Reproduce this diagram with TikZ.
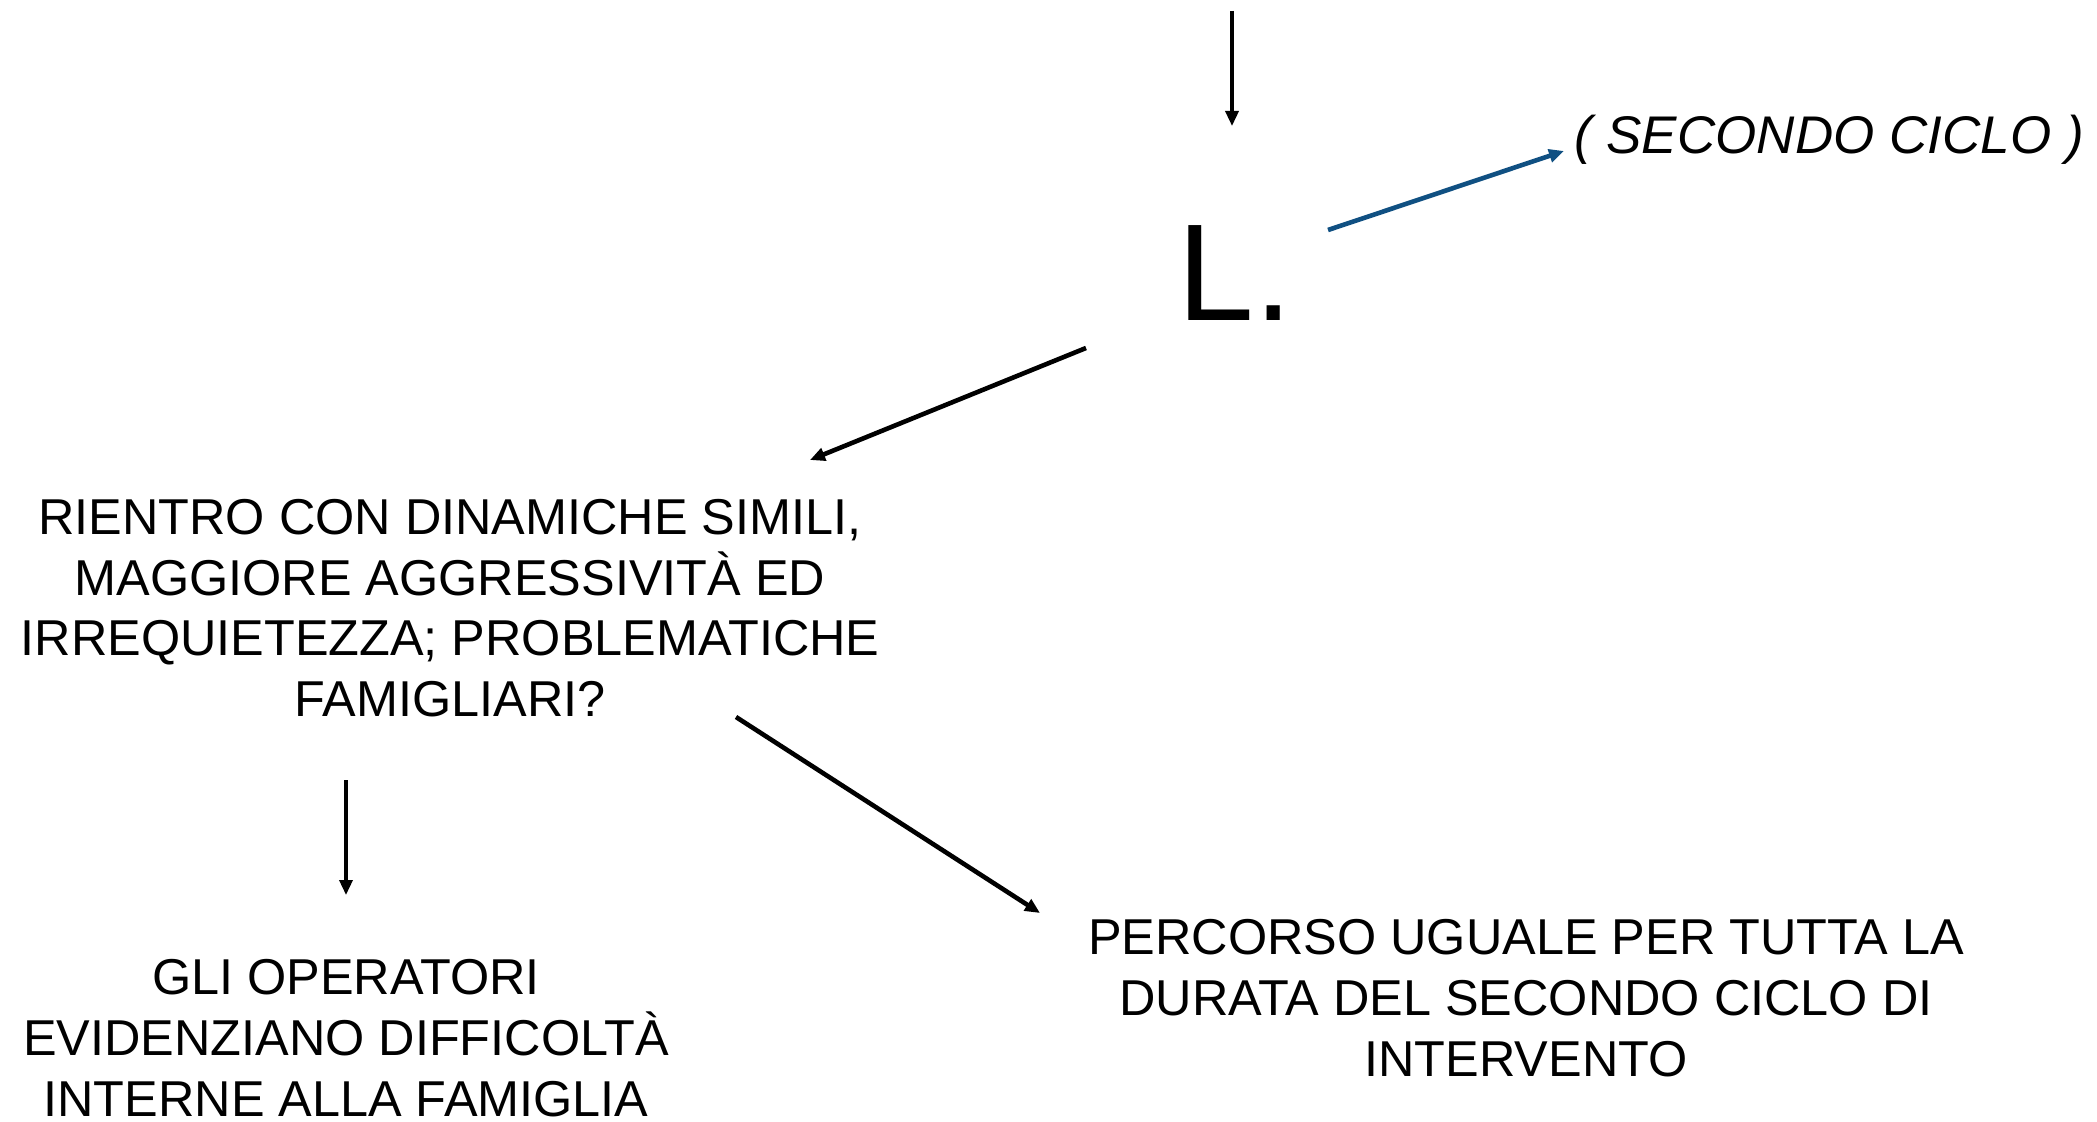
\documentclass[tikz,border=0pt]{standalone}
\usepackage{fontspec}
\setmainfont{Liberation Sans}
\usetikzlibrary{arrows.meta}
\definecolor{arrowblue}{RGB}{16,80,130}
\begin{document}
\begin{tikzpicture}[x=0.5pt,y=-0.5pt,
  txt/.style={font=\fontsize{25.2}{30.35}\selectfont, align=center, inner sep=0pt},
  conn/.style={-{Triangle[length=7.5pt,width=6.5pt]}, line width=2.3pt, black},
  thinconn/.style={conn, line width=1.7pt},
  blueconn/.style={conn, draw=arrowblue, fill=arrowblue, line width=2.3pt}]
\useasboundingbox (0,0) rectangle (2097,1122);
% nodes
\node[inner sep=0pt, font=\fontsize{69}{80}\selectfont, anchor=base] (L) at (1235,321) {L.};
\node[inner sep=0pt, font=\fontsize{26.5}{30}\selectfont\itshape, anchor=base] (ciclo) at (1829,154) {( SECONDO CICLO )};
\node[txt] (rientro) at (450,608) {RIENTRO CON DINAMICHE SIMILI,\\MAGGIORE AGGRESSIVITÀ ED\\IRREQUIETEZZA; PROBLEMATICHE\\FAMIGLIARI?};
\node[txt] (operatori) at (346,1038) {GLI OPERATORI\\EVIDENZIANO DIFFICOLTÀ\\INTERNE ALLA FAMIGLIA};
\node[txt] (percorso) at (1526,998) {PERCORSO UGUALE PER TUTTA LA\\DURATA DEL SECONDO CICLO DI\\INTERVENTO};
% connector ends
\coordinate (topIn) at (1232,11);
\coordinate (topEnd) at (1232,126);
\coordinate (bStart) at (1328,230);
\coordinate (bEnd) at (1564,151);
\coordinate (lStart) at (1086,348);
\coordinate (lEnd) at (810,460);
\coordinate (rStart) at (736,717);
\coordinate (rEnd) at (1040,913);
\coordinate (oStart) at (346,780);
\coordinate (oEnd) at (346,895);
% connectors
\draw[thinconn] (topIn) -- (topEnd);
\draw[blueconn] (bStart) -- (bEnd);
\draw[conn] (lStart) -- (lEnd);
\draw[conn] (rStart) -- (rEnd);
\draw[thinconn] (oStart) -- (oEnd);
\end{tikzpicture}
\end{document}
